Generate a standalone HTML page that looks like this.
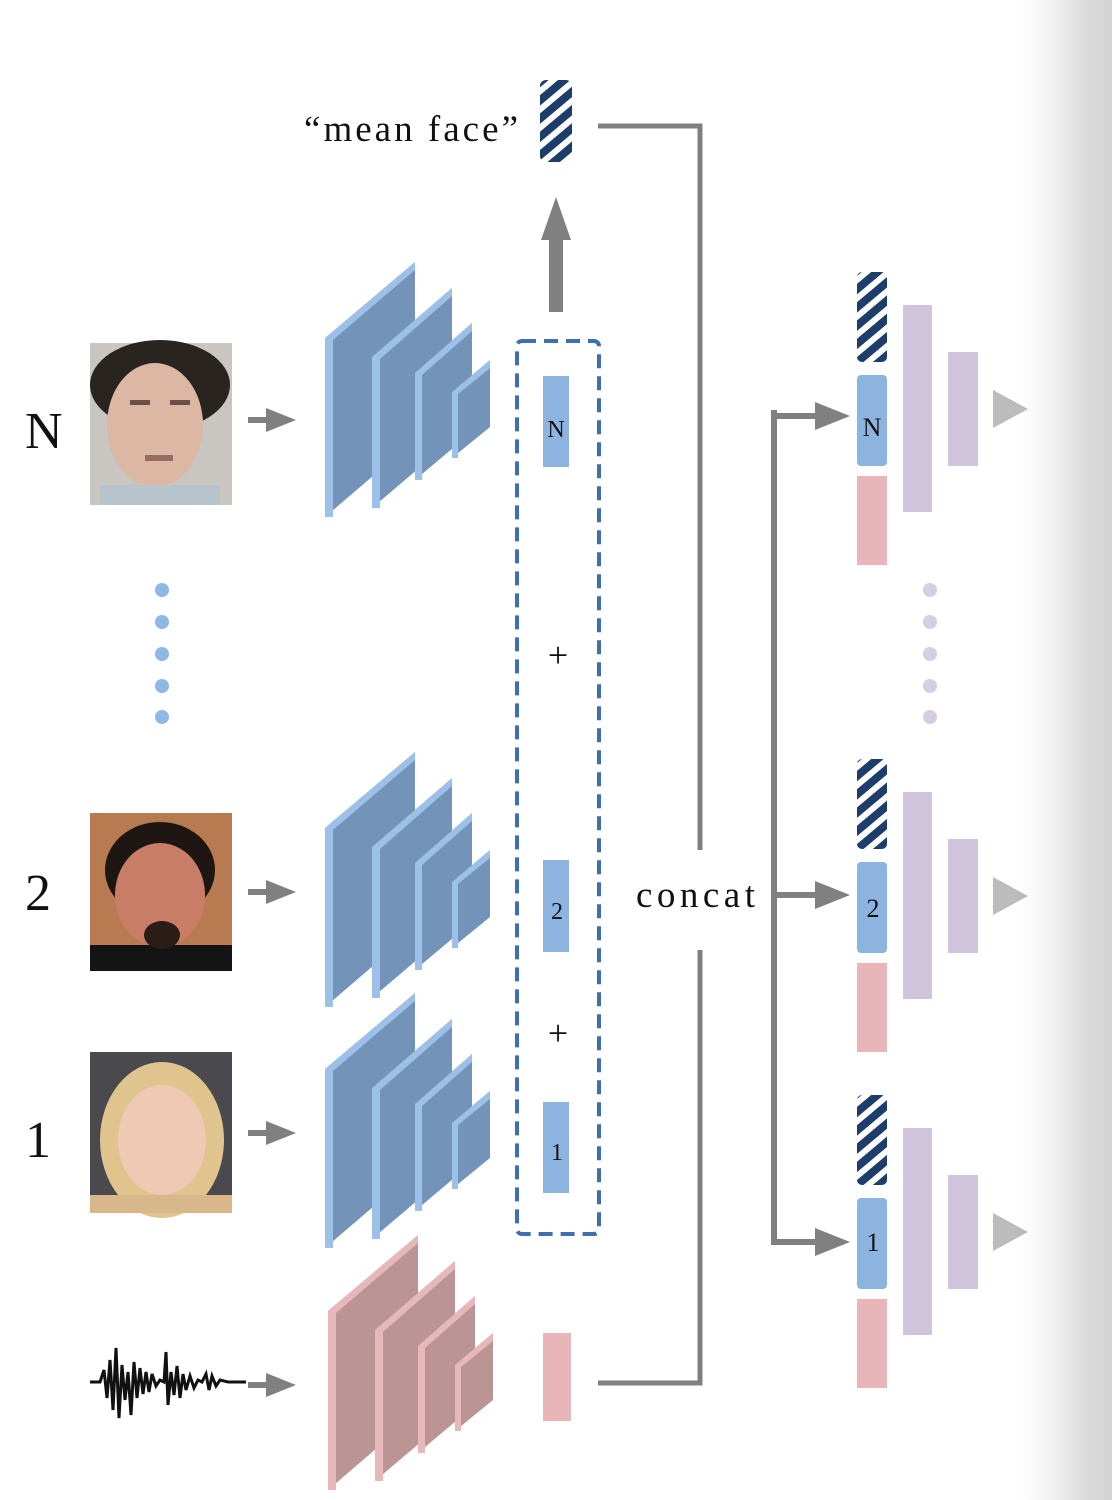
<!DOCTYPE html>
<html><head><meta charset="utf-8"><style>
html,body{margin:0;padding:0;}
body{width:1112px;height:1500px;overflow:hidden;background:linear-gradient(to right,#fff 0,#fff 1020px,#f2f2f2 1050px,#dcdcdc 1085px,#d2d2d2 1112px);}
svg{display:block}
text{font-family:"Liberation Serif",serif;fill:#111}
</style></head><body>
<svg width="1112" height="1500" viewBox="0 0 1112 1500" xmlns="http://www.w3.org/2000/svg">
<defs>
<pattern id="hat" width="14" height="14" patternUnits="userSpaceOnUse" patternTransform="rotate(-40)">
<rect width="14" height="14" fill="#fff"/><rect width="14" height="8" fill="#1d3d6b"/>
</pattern>
<g id="encB">
<polygon points="325,338 415,262 415,440 325,517" fill="#7393b8"/>
<polygon points="325,338 415,262 415,270 333,340 333,517 325,517" fill="#9dc0e8"/>
<polygon points="372,357 452,288 452,440 372,508" fill="#7393b8"/>
<polygon points="372,357 452,288 452,296 380,359 380,508 372,508" fill="#9dc0e8"/>
<polygon points="415,373 472,323 472,432 415,480" fill="#7393b8"/>
<polygon points="415,373 472,323 472,331 422,375 422,480 415,480" fill="#9dc0e8"/>
<polygon points="452,392 490,360 490,427 452,458" fill="#7393b8"/>
<polygon points="452,392 490,360 490,368 458,394 458,458 452,458" fill="#9dc0e8"/>
</g>
<g id="encP">
<polygon points="325,338 415,262 415,440 325,517" fill="#bb9596"/>
<polygon points="325,338 415,262 415,270 333,340 333,517 325,517" fill="#e6b8ba"/>
<polygon points="372,357 452,288 452,440 372,508" fill="#bb9596"/>
<polygon points="372,357 452,288 452,296 380,359 380,508 372,508" fill="#e6b8ba"/>
<polygon points="415,373 472,323 472,432 415,480" fill="#bb9596"/>
<polygon points="415,373 472,323 472,331 422,375 422,480 415,480" fill="#e6b8ba"/>
<polygon points="452,392 490,360 490,427 452,458" fill="#bb9596"/>
<polygon points="452,392 490,360 490,368 458,394 458,458 452,458" fill="#e6b8ba"/>
</g>
<g id="arr"><rect x="248" y="-3" width="22" height="6" fill="#808080"/><polygon points="266,-12 296,0 266,12" fill="#808080"/></g>
<g id="dec">
<rect x="857" y="0" width="30" height="90" rx="5" fill="url(#hat)"/>
<rect x="857" y="103" width="30" height="91" rx="4" fill="#8db4e0"/>
<rect x="857" y="204" width="30" height="89" fill="#e8b6b9"/>
<rect x="903" y="33" width="29" height="207" fill="#d0c5dd"/>
<rect x="948" y="80" width="30" height="114" fill="#d0c5dd"/>
<polygon points="993,118 1028,137 993,156" fill="#bcbcbc"/>
</g>
</defs>

<text x="25" y="448" font-size="52">N</text>
<text x="25" y="910" font-size="52">2</text>
<text x="25" y="1157" font-size="52">1</text>

<g>
<rect x="90" y="343" width="142" height="162" fill="#c9c6c2"/>
<ellipse cx="160" cy="385" rx="70" ry="45" fill="#2a2420"/>
<ellipse cx="155" cy="425" rx="48" ry="62" fill="#dcb7a4"/>
<rect x="100" y="485" width="120" height="20" fill="#b8c4cc"/>
<rect x="130" y="400" width="20" height="5" fill="#6a5048"/><rect x="170" y="400" width="20" height="5" fill="#6a5048"/>
<rect x="145" y="455" width="28" height="6" fill="#9a6a64"/>
</g>
<g>
<rect x="90" y="813" width="142" height="158" fill="#b87a50"/>
<ellipse cx="160" cy="870" rx="55" ry="48" fill="#1e1612"/>
<ellipse cx="160" cy="895" rx="45" ry="52" fill="#c97d66"/>
<rect x="90" y="945" width="142" height="26" fill="#141414"/>
<ellipse cx="162" cy="935" rx="18" ry="14" fill="#2a1c16"/>
</g>
<g>
<rect x="90" y="1052" width="142" height="161" fill="#4a4a4e"/>
<ellipse cx="162" cy="1140" rx="62" ry="78" fill="#e0c48e"/>
<ellipse cx="162" cy="1140" rx="44" ry="55" fill="#efc9b4"/>
<rect x="90" y="1195" width="142" height="18" fill="#d8b88a"/>
</g>

<path d="M90,1382 L100,1382 L104,1370 L107,1398 L110,1360 L113,1410 L116,1348 L119,1418 L122,1365 L125,1400 L128,1372 L131,1415 L134,1362 L137,1398 L140,1368 L143,1394 L146,1372 L149,1392 L152,1374 L156,1386 L160,1380 L164,1382 L166,1352 L168,1405 L171,1372 L174,1395 L177,1366 L180,1398 L183,1374 L186,1390 L190,1376 L194,1388 L198,1380 L202,1382 L206,1374 L209,1390 L212,1376 L216,1386 L220,1380 L228,1382 L246,1382" fill="none" stroke="#111" stroke-width="3"/>

<g fill="#8fb8e5"><circle cx="162" cy="590" r="7"/><circle cx="162" cy="622" r="7"/><circle cx="162" cy="654" r="7"/><circle cx="162" cy="686" r="7"/><circle cx="162" cy="717" r="7"/></g>
<g fill="#d6cce3"><circle cx="930" cy="590" r="7"/><circle cx="930" cy="622" r="7"/><circle cx="930" cy="654" r="7"/><circle cx="930" cy="686" r="7"/><circle cx="930" cy="717" r="7"/></g>

<use href="#arr" transform="translate(0,420)"/>
<use href="#arr" transform="translate(0,892)"/>
<use href="#arr" transform="translate(0,1133)"/>
<use href="#arr" transform="translate(0,1385)"/>

<use href="#encB"/>
<use href="#encB" transform="translate(0,490)"/>
<use href="#encB" transform="translate(0,731)"/>
<use href="#encP" transform="translate(3,973)"/>

<rect x="517" y="341" width="82" height="893" rx="5" fill="none" stroke="#3e6fae" stroke-width="4" stroke-dasharray="14 8"/>
<rect x="543" y="376" width="26" height="91" fill="#8db4e0"/>
<rect x="543" y="860" width="26" height="92" fill="#8db4e0"/>
<rect x="543" y="1102" width="26" height="91" fill="#8db4e0"/>
<text x="556" y="437" font-size="24" text-anchor="middle">N</text>
<text x="557" y="919" font-size="24" text-anchor="middle">2</text>
<text x="557" y="1160" font-size="24" text-anchor="middle">1</text>
<text x="558" y="667" font-size="36" text-anchor="middle">+</text>
<text x="558" y="1045" font-size="36" text-anchor="middle">+</text>
<rect x="543" y="1333" width="28" height="88" fill="#e8b6b9"/>

<rect x="549" y="236" width="14" height="76" fill="#808080"/>
<polygon points="541,240 556,197 571,240" fill="#808080"/>
<rect x="540" y="80" width="32" height="82" rx="6" fill="url(#hat)"/>
<text x="304" y="141" font-size="37" textLength="214" lengthAdjust="spacing">“mean face”</text>

<polyline points="598,126 700,126 700,850" fill="none" stroke="#808080" stroke-width="5"/>
<polyline points="700,950 700,1383 598,1383" fill="none" stroke="#808080" stroke-width="5"/>
<text x="636" y="907" font-size="37" textLength="119" lengthAdjust="spacing">concat</text>
<rect x="771" y="410" width="6" height="835" fill="#808080"/>
<rect x="771" y="413" width="50" height="6" fill="#808080"/>
<polygon points="815,402 850,416 815,430" fill="#808080"/>
<rect x="771" y="892" width="50" height="6" fill="#808080"/>
<polygon points="815,881 850,895 815,909" fill="#808080"/>
<rect x="771" y="1239" width="50" height="6" fill="#808080"/>
<polygon points="815,1228 850,1242 815,1256" fill="#808080"/>

<use href="#dec" transform="translate(0,272)"/>
<use href="#dec" transform="translate(0,759)"/>
<use href="#dec" transform="translate(0,1095)"/>
<text x="872" y="436" font-size="26" text-anchor="middle">N</text>
<text x="873" y="917" font-size="26" text-anchor="middle">2</text>
<text x="873" y="1251" font-size="26" text-anchor="middle">1</text>
</svg>
</body></html>
